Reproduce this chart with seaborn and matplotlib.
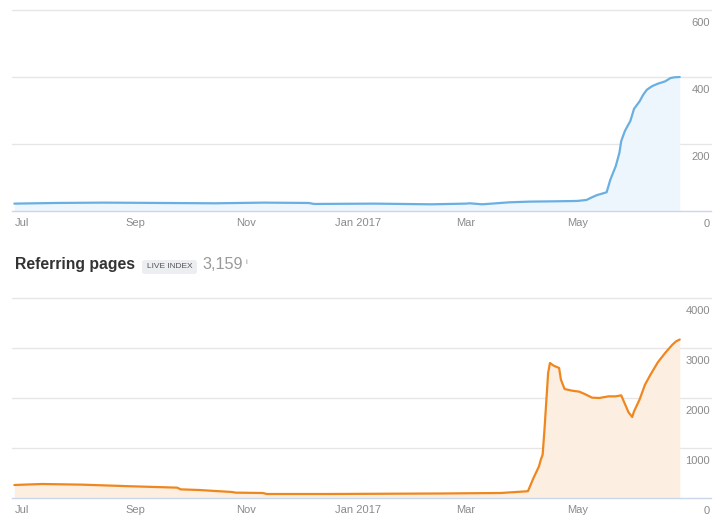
import matplotlib
matplotlib.use("Agg")
import matplotlib.pyplot as plt
import matplotlib.transforms as mtrans
import matplotlib.patches as mpatches
import pandas as pd
import seaborn as sns

# ---------------- data ----------------
domain_dates = ["2016-06-27", "2016-07-20", "2016-08-15", "2016-09-15", "2016-10-15", "2016-11-10",
                "2016-12-05", "2016-12-08", "2017-01-10", "2017-02-10", "2017-03-01", "2017-03-03",
                "2017-03-10", "2017-03-25", "2017-04-05", "2017-04-20", "2017-05-01", "2017-05-06",
                "2017-05-09", "2017-05-12", "2017-05-14", "2017-05-17", "2017-05-19", "2017-05-22",
                "2017-05-24", "2017-05-25", "2017-05-27", "2017-05-30", "2017-06-01", "2017-06-04",
                "2017-06-06", "2017-06-08", "2017-06-11", "2017-06-14", "2017-06-18", "2017-06-21",
                "2017-06-23", "2017-06-26"]
domain_values = [22, 24, 25, 24, 23, 25,
                 24, 21, 22, 20, 22, 23,
                 20, 26, 28, 29, 30, 33,
                 41, 48, 51, 56, 93, 134,
                 174, 209, 239, 269, 305, 327,
                 347, 362, 373, 380, 387, 397,
                 399, 400]

page_dates = ["2016-06-27", "2016-07-12", "2016-08-03", "2016-08-31", "2016-09-24", "2016-09-26",
              "2016-10-06", "2016-10-24", "2016-10-26", "2016-11-10", "2016-11-12", "2016-12-15",
              "2017-01-15", "2017-02-15", "2017-03-20", "2017-04-03", "2017-04-04", "2017-04-07",
              "2017-04-10", "2017-04-11", "2017-04-12", "2017-04-13", "2017-04-15", "2017-04-16",
              "2017-04-18", "2017-04-21", "2017-04-22", "2017-04-24", "2017-04-28", "2017-05-02",
              "2017-05-05", "2017-05-09", "2017-05-13", "2017-05-18", "2017-05-22", "2017-05-25",
              "2017-05-26", "2017-05-29", "2017-05-31", "2017-06-01", "2017-06-04", "2017-06-07",
              "2017-06-10", "2017-06-14", "2017-06-18", "2017-06-22", "2017-06-24", "2017-06-26"]
page_values = [260, 280, 267, 233, 207, 173,
               160, 120, 107, 100, 80, 80,
               85, 90, 100, 133, 140, 400,
               633, 767, 867, 1367, 2500, 2700,
               2647, 2600, 2367, 2180, 2147, 2127,
               2080, 2007, 2000, 2033, 2033, 2053,
               1967, 1713, 1620, 1733, 1967, 2267,
               2467, 2713, 2900, 3067, 3133, 3170]

month_ticks = ["2016-07-01", "2016-09-01", "2016-11-01", "2017-01-01", "2017-03-01", "2017-05-01"]
month_labels = ["Jul", "Sep", "Nov", "Jan 2017", "Mar", "May"]
top_yticks = [0, 200, 400, 600]
bottom_yticks = [0, 1000, 2000, 3000, 4000]
title_text = "Referring pages"
badge_text = "LIVE INDEX"
total_text = "3,159"

# ---------------- style ----------------
sns.set_style("white")
plt.rcParams['font.family'] = ['Liberation Sans', 'DejaVu Sans']

W, H = 724, 530
fig = plt.figure(figsize=(W / 100, H / 100), dpi=100)


def px_axes(left, top, right, bottom):
    return fig.add_axes([left / W, 1 - bottom / H, (right - left) / W, (bottom - top) / H])


ax1 = px_axes(12, 10, 711, 211)
ax2 = px_axes(12, 298, 711, 498)

x_start = pd.Timestamp("2016-07-01") + pd.Timedelta(days=-5.3)
x_end = pd.Timestamp("2016-07-01") + pd.Timedelta(days=377.1)

label_color = "#8a8a8a"
grid_color = "#e6e6e6"
axis_color = "#ccd6eb"


def draw_panel(ax, dates, values, yticks, line_color, fill_color):
    d = pd.to_datetime(pd.Series(dates))
    df = pd.DataFrame({"date": d, "value": values})
    ax.fill_between(df["date"], df["value"], 0, color=fill_color, linewidth=0, zorder=1)
    sns.lineplot(data=df, x="date", y="value", ax=ax, color=line_color, linewidth=1.6,
                 zorder=3)
    ax.set_xlim(x_start, x_end)
    ax.set_ylim(yticks[0], yticks[-1])
    ax.set_xlabel("")
    ax.set_ylabel("")
    for s in ["top", "left", "right"]:
        ax.spines[s].set_visible(False)
    ax.spines["bottom"].set_color(axis_color)
    ax.spines["bottom"].set_linewidth(1)
    ax.set_yticks(yticks)
    ax.set_yticklabels([])
    ax.tick_params(axis="y", length=0)
    for yv in yticks[1:]:
        ax.axhline(yv, color=grid_color, linewidth=1, zorder=0, clip_on=False)
    ax.set_xticks(pd.to_datetime(month_ticks))
    ax.set_xticklabels(month_labels)
    ax.tick_params(axis="x", direction="in", length=5, width=1, color="#d8dde8",
                   labelsize=8, labelcolor=label_color, pad=5)
    trans = mtrans.blended_transform_factory(ax.transAxes, ax.transData) + \
        mtrans.ScaledTranslation(-1 / 100, -13 / 100, fig.dpi_scale_trans)
    for yv in yticks:
        ax.text(1.0, yv, f"{yv}", transform=trans, ha="right", va="center",
                fontsize=8, color=label_color, zorder=5)


draw_panel(ax1, domain_dates, domain_values, top_yticks, "#6aafe2", "#eef6fd")
draw_panel(ax2, page_dates, page_values, bottom_yticks, "#ef871f", "#fdeee2")

# ---------------- header for second panel ----------------
fig.text(15 / W, 1 - 269 / H, title_text, fontsize=11.3, fontweight="bold", color="#333333",
         ha="left", va="baseline")
badge = mpatches.FancyBboxPatch((142 / W, 1 - 274 / H), 55 / W, 14 / H,
                                boxstyle="round,pad=0,rounding_size=0.004",
                                transform=fig.transFigure, facecolor="#eceef2",
                                edgecolor="none")
fig.add_artist(badge)
fig.text(169.5 / W, 1 - 267 / H, badge_text, fontsize=6, color="#555555",
         ha="center", va="center")
fig.text(202 / W, 1 - 269 / H, total_text, fontsize=11.7, color="#9a9a9a",
         ha="left", va="baseline")
fig.text(246 / W, 1 - 262 / H, "i", fontsize=6, color="#9a9a9a", ha="center", va="center")

fig.savefig("out.png", dpi=100)
